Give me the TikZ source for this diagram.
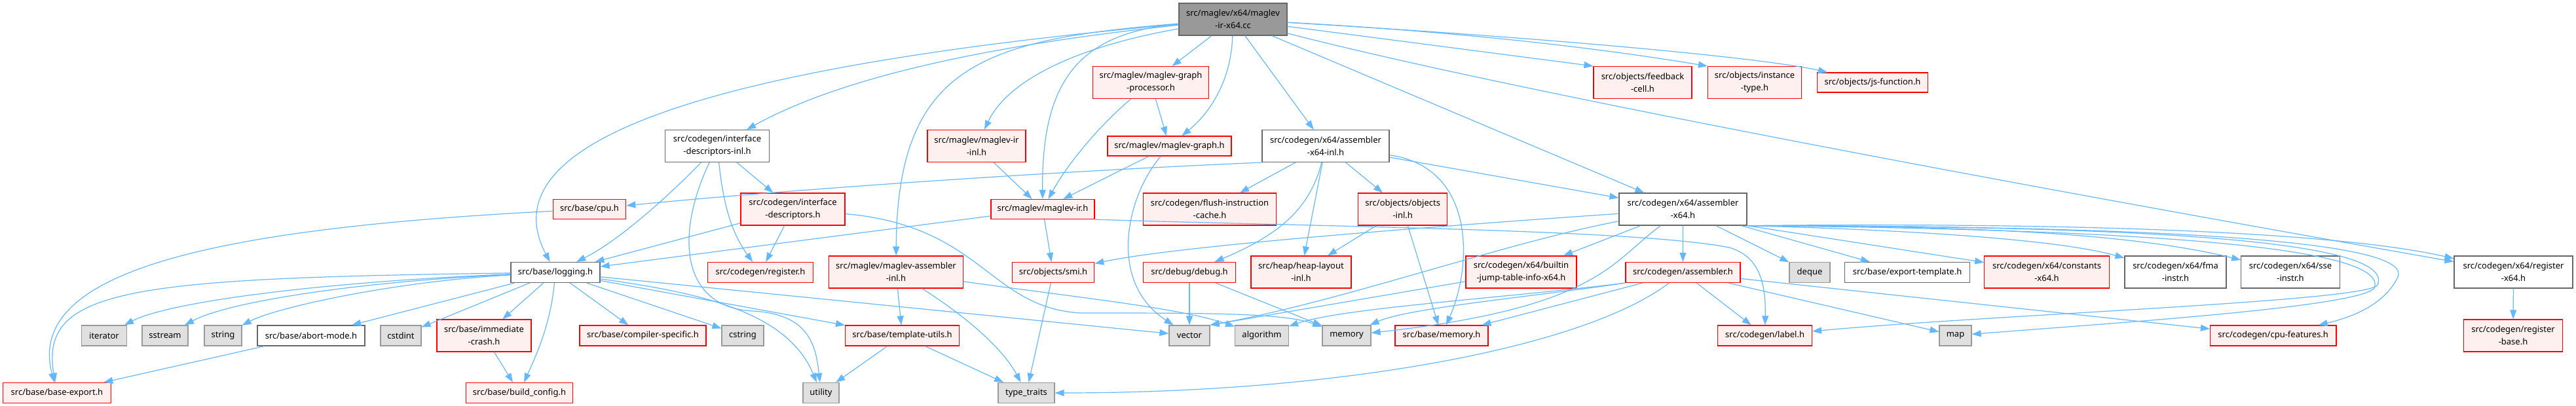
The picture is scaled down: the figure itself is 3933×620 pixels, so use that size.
\documentclass[tikz,border=0pt]{standalone}
\usepackage{fontspec}
\newfontfamily\dfont{Noto Sans}
\usetikzlibrary{arrows.meta}
\definecolor{edgeblue}{HTML}{63B8FF}
\definecolor{redfill}{HTML}{FFF0F0}
\definecolor{grayfill}{HTML}{E0E0E0}
\definecolor{grayline}{HTML}{999999}
\definecolor{darkline}{HTML}{666666}
\definecolor{mainfill}{HTML}{999999}
\definecolor{redline}{HTML}{FF0000}
\begin{document}
\begin{tikzpicture}[x=1pt,y=-1pt,
  nbox/.style={draw, line width=1.2pt, inner sep=0pt, align=center,
    font=\dfont\fontsize{13}{19}\selectfont, minimum height=31pt},
  tall/.style={minimum height=49pt},
  redbox/.style={nbox, draw=redline, fill=redfill},
  graybox/.style={nbox, draw=grayline, fill=grayfill},
  whitebox/.style={nbox, draw=darkline, fill=white},
  mainbox/.style={nbox, draw=darkline, fill=mainfill},
  dep/.style={draw=edgeblue, line width=1.2pt, -{Triangle[length=14pt,width=10pt]}},
]
\fill[white] (0,0) rectangle (3933,620);
\useasboundingbox (0,0) rectangle (3933,620);

% row 0
\node[mainbox, tall, minimum width=165pt] (M) at (1882.5,29.5) {src/maglev/x64/maglev\\-ir-x64.cc};
% row 1
\node[redbox, tall, minimum width=176.5pt] (gp) at (1757,126) {src/maglev/maglev-graph\\-processor.h};
\node[redbox, tall, minimum width=150pt] (fb) at (2508,126) {src/objects/feedback\\-cell.h};
\node[redbox, tall, minimum width=143pt] (it) at (2679,126) {src/objects/instance\\-type.h};
\node[redbox, minimum width=168.5pt, minimum height=30pt] (jsf) at (2859,126) {src/objects/js-function.h};
% row 2
\node[whitebox, tall, minimum width=158.5pt] (idi) at (1095,223) {src/codegen/interface\\-descriptors-inl.h};
\node[redbox, tall, minimum width=150pt] (iri) at (1491,223) {src/maglev/maglev-ir\\-inl.h};
\node[redbox, minimum width=189pt, minimum height=30pt] (mg) at (1785.5,223) {src/maglev/maglev-graph.h};
\node[whitebox, tall, minimum width=194pt] (axi) at (2024,223) {src/codegen/x64/assembler\\-x64-inl.h};
% row 3
\node[redbox, minimum width=111.5pt, minimum height=30pt] (cpu) at (900,319.5) {src/base/cpu.h};
\node[redbox, tall, minimum width=159pt] (id) at (1210.5,319.5) {src/codegen/interface\\-descriptors.h};
\node[redbox, minimum width=158pt, minimum height=30pt] (ir) at (1592,319.5) {src/maglev/maglev-ir.h};
\node[redbox, tall, minimum width=202.5pt] (fic) at (1847,319.5) {src/codegen/flush-instruction\\-cache.h};
\node[redbox, tall, minimum width=136pt] (oi) at (2141.7,319.5) {src/objects/objects\\-inl.h};
\node[whitebox, tall, minimum width=195pt] (ax) at (2569.5,319.5) {src/codegen/x64/assembler\\-x64.h};
% row 4
\node[whitebox, minimum width=136pt] (log) at (848,416) {src/base/logging.h};
\node[redbox, minimum width=160.5pt] (reg) at (1161,416) {src/codegen/register.h};
\node[redbox, tall, minimum width=204.5pt] (mai) at (1368,415.5) {src/maglev/maglev-assembler\\-inl.h};
\node[redbox, minimum width=125.5pt] (smi) at (1608,416) {src/objects/smi.h};
\node[redbox, minimum width=140.5pt] (dbg) at (1816,416) {src/debug/debug.h};
\node[redbox, tall, minimum width=153pt] (hl) at (1986.5,415.5) {src/heap/heap-layout\\-inl.h};
\node[redbox, tall, minimum width=169pt] (bjt) at (2322.5,415.5) {src/codegen/x64/builtin\\-jump-table-info-x64.h};
\node[redbox, minimum width=175pt] (asm) at (2569.4,416) {src/codegen/assembler.h};
\node[graybox, minimum width=62pt] (dq) at (2763,416) {deque};
\node[whitebox, minimum width=190.6pt] (et) at (2912,416) {src/base/export-template.h};
\node[redbox, tall, minimum width=190.5pt] (cx) at (3125,415.5) {src/codegen/x64/constants\\-x64.h};
\node[whitebox, tall, minimum width=155pt] (fma) at (3321.5,415.5) {src/codegen/x64/fma\\-instr.h};
\node[whitebox, tall, minimum width=150.7pt] (sse) at (3497,415.5) {src/codegen/x64/sse\\-instr.h};
\node[whitebox, tall, minimum width=181pt] (rx) at (3837.5,415.5) {src/codegen/x64/register\\-x64.h};
% row 5
\node[graybox, minimum width=68.5pt] (iter) at (159,512.5) {iterator};
\node[graybox, minimum width=70pt] (sst) at (252,512.5) {sstream};
\node[graybox, minimum width=57pt] (str) at (340.5,512.5) {string};
\node[whitebox, minimum width=164pt] (am) at (475,512.5) {src/base/abort-mode.h};
\node[graybox, minimum width=62pt] (cstdint) at (612,512.5) {cstdint};
\node[redbox, tall, minimum width=144pt] (ic) at (739,512.5) {src/base/immediate\\-crash.h};
\node[redbox, minimum width=193pt] (cs) at (981.5,512.5) {src/base/compiler-specific.h};
\node[graybox, minimum width=64pt] (cstr) at (1134,512.5) {cstring};
\node[redbox, minimum width=174pt] (tu) at (1377.6,512.5) {src/base/template-utils.h};
\node[graybox, minimum width=62pt] (vec) at (1816,512.5) {vector};
\node[graybox, minimum width=81.7pt] (alg) at (1926.5,512.5) {algorithm};
\node[graybox, minimum width=74pt] (mem) at (2056,512.5) {memory};
\node[redbox, minimum width=142pt] (bmem) at (2201,512.5) {src/base/memory.h};
\node[redbox, minimum width=143.7pt] (lab) at (2694.6,512.5) {src/codegen/label.h};
\node[graybox, minimum width=49pt] (map) at (2985.5,512.5) {map};
\node[redbox, minimum width=192.5pt] (cf) at (3470.7,512.5) {src/codegen/cpu-features.h};
\node[redbox, tall, minimum width=151pt] (rb) at (3837,512.5) {src/codegen/register\\-base.h};
% row 6
\node[redbox, minimum width=164.5pt] (be) at (87,600) {src/base/base-export.h};
\node[redbox, minimum width=163.5pt] (bc) at (793,600) {src/base/build\_config.h};
\node[graybox, minimum width=55pt] (util) at (1253.5,600) {utility};
\node[graybox, minimum width=86pt] (tt) at (1567,600) {type\_traits};

% edges from main
\draw[dep] (M) .. controls (1100,100) and (740,210) .. (log);
\draw[dep] (M) .. controls (1500,70) and (1280,120) .. (idi);
\draw[dep] (M) .. controls (1500,60) and (1370,100) .. (mai);
\draw[dep] (M) .. controls (1650,70) and (1540,120) .. (iri);
\draw[dep] (M) .. controls (1650,50) and (1590,120) .. (ir);
\draw[dep] (M) -- (gp);
\draw[dep] (M) .. controls (1880,120) and (1850,170) .. (mg);
\draw[dep] (M) -- (axi);
\draw[dep] (M) -- (ax);
\draw[dep] (M) -- (fb.north west);
\draw[dep] (M) .. controls (2250,50) and (2450,75) .. (it.north west);
\draw[dep] (M) .. controls (2400,60) and (2700,90) .. (jsf);
\draw[dep] (M) .. controls (2350,150) and (3250,312.5) .. (rx);

% logging
\draw[dep] (log) .. controls (200,425) and (60,440) .. (be);
\draw[dep] (log) .. controls (500,430) and (260,460) .. (iter);
\draw[dep] (log) .. controls (550,430) and (350,460) .. (sst);
\draw[dep] (log) .. controls (600,430) and (420,470) .. (str);
\draw[dep] (log) -- (am);
\draw[dep] (log) -- (cstdint);
\draw[dep] (log) -- (ic);
\draw[dep] (log) .. controls (840,500) and (815,550) .. (bc);
\draw[dep] (log) -- (cs);
\draw[dep] (log) -- (cstr);
\draw[dep] (log) .. controls (1050,445) and (1200,470) .. (util);
\draw[dep] (log) -- (tu);
\draw[dep] (log) -- (vec);
\draw[dep] (cpu) .. controls (300,350) and (40,420) .. (be);
\draw[dep] (am) -- (be);
\draw[dep] (ic) -- (bc);

% interface descriptors
\draw[dep] (idi) .. controls (1010,310) and (940,370) .. (log);
\draw[dep] (idi) -- (id);
\draw[dep] (idi) .. controls (1105,320) and (1120,360) .. (reg);
\draw[dep] (idi) .. controls (1030,360) and (1040,470) .. (1150,475) .. controls (1230,480) and (1245,520) .. (util);
\draw[dep] (id) -- (log);
\draw[dep] (id) -- (reg);
\draw[dep] (id) .. controls (1500,345) and (1510,470) .. (1650,478) .. controls (1850,478) and (1960,478) .. (mem);

% maglev
\draw[dep] (iri) -- (ir);
\draw[dep] (gp) .. controls (1680,190) and (1630,250) .. (ir);
\draw[dep] (gp) -- (mg);
\draw[dep] (mg) -- (ir);
\draw[dep] (mg) .. controls (1720,300) and (1690,430) .. (vec);
\draw[dep] (ir) -- (log);
\draw[dep] (ir) -- (smi);
\draw[dep] (ir.south east) .. controls (2000,346) and (2500,350) .. (2640,378) .. controls (2690,392) and (2696,440) .. (lab);
\draw[dep] (smi) -- (tt);
\draw[dep] (mai) -- (tu);
\draw[dep] (mai) .. controls (1470,480) and (1530,530) .. (tt);
\draw[dep] (mai) .. controls (1650,455) and (1800,470) .. (alg);
\draw[dep] (tu) -- (util);
\draw[dep] (tu) -- (tt);

% assembler-x64-inl
\draw[dep] (axi.south west) .. controls (1600,262) and (1200,290) .. (cpu);
\draw[dep] (axi) -- (fic);
\draw[dep] (axi) .. controls (2000,320) and (1950,360) .. (dbg);
\draw[dep] (axi) -- (hl);
\draw[dep] (axi) -- (oi);
\draw[dep] (axi) .. controls (2250,255) and (2250,400) .. (bmem);
\draw[dep] (axi) -- (ax);
\draw[dep] (oi) -- (hl);
\draw[dep] (oi) -- (bmem);
\draw[dep] (dbg) -- (vec);
\draw[dep] (dbg) -- (mem);

% assembler-x64
\draw[dep] (ax) .. controls (2200,345) and (1800,375) .. (smi);
\draw[dep] (ax) .. controls (2300,370) and (2050,460) .. (vec.north east);
\draw[dep] (ax) .. controls (2460,400) and (2440,470) .. (mem);
\draw[dep] (ax) -- (bjt);
\draw[dep] (ax) -- (asm);
\draw[dep] (ax) -- (dq);
\draw[dep] (ax) -- (et);
\draw[dep] (ax.south east) -- (cx);
\draw[dep] (ax.south east) .. controls (2950,352) and (3150,368) .. (fma);
\draw[dep] (ax.south east) .. controls (3000,345) and (3250,355) .. (sse);
\draw[dep] (ax.south east) .. controls (3100,340) and (3550,350) .. (rx);
\draw[dep] (ax.south east) .. controls (3250,345) and (3660,365) .. (3630,435) .. controls (3620,460) and (3050,480) .. (lab);
\draw[dep] (ax.south east) .. controls (3250,350) and (3650,375) .. (3625,440) .. controls (3600,470) and (3200,495) .. (map);
\draw[dep] (ax.south east) .. controls (3400,345) and (3690,375) .. (3660,425) .. controls (3645,455) and (3610,480) .. (cf);
\draw[dep] (bjt) -- (vec.north east);

% assembler.h
\draw[dep] (asm.south west) .. controls (2300,455) and (2050,470) .. (alg);
\draw[dep] (asm.south west) .. controls (2350,452) and (2150,470) .. (mem);
\draw[dep] (asm) -- (bmem);
\draw[dep] (asm) -- (lab);
\draw[dep] (asm) -- (map);
\draw[dep] (asm) -- (cf);
\draw[dep] (asm) .. controls (2420,530) and (2050,600) .. (tt);

\draw[dep] (rx) -- (rb);
\end{tikzpicture}
\end{document}
